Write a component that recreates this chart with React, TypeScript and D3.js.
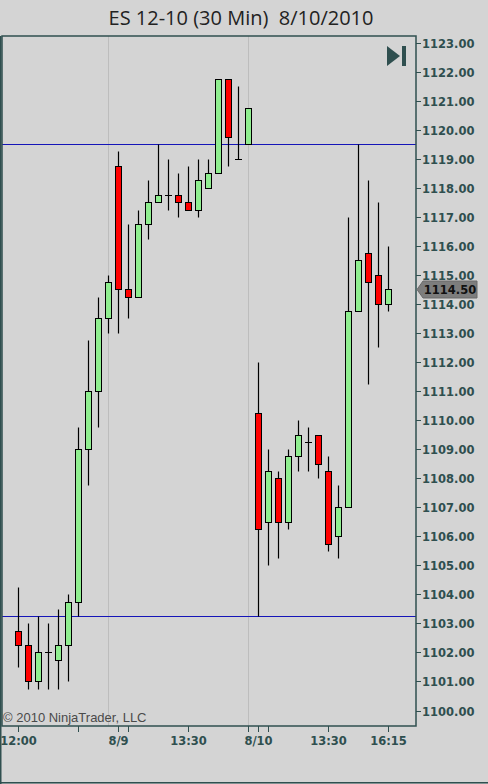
import React from "react";
import * as d3 from "d3";

// ES 12-10, 30 minute bars
const barOpen = [
  1102.75, 1102.25, 1101.0, 1102.0, 1101.75, 1102.25, 1103.75, 1109.0, 1111.0, 1113.5,
  1118.75, 1114.5, 1114.25, 1116.75, 1117.5, 1117.75, 1117.75, 1117.5, 1117.25, 1118.0,
  1118.5, 1121.75, 1119.0, 1119.5, 1110.25, 1106.5, 1108.0, 1106.5, 1108.75, 1109.25,
  1109.5, 1108.25, 1106.0, 1107.0, 1113.75, 1115.75, 1115.0, 1114.0,
];
const barHigh = [
  1104.25, 1103.0, 1103.25, 1103.0, 1103.5, 1104.0, 1109.75, 1112.75, 1114.25, 1115.0,
  1119.25, 1116.75, 1117.25, 1118.25, 1119.5, 1119.0, 1118.5, 1118.75, 1119.0, 1119.0,
  1121.75, 1121.75, 1121.5, 1120.75, 1112.0, 1109.0, 1108.25, 1109.0, 1110.0, 1109.75,
  1109.5, 1108.75, 1107.75, 1117.0, 1119.5, 1118.25, 1117.5, 1116.0,
];
const barLow = [
  1101.5, 1100.75, 1100.75, 1100.75, 1100.75, 1101.0, 1103.25, 1107.75, 1109.75, 1113.0,
  1113.0, 1113.5, 1114.25, 1116.25, 1117.5, 1117.25, 1117.0, 1117.25, 1117.0, 1118.0,
  1118.5, 1118.75, 1119.0, 1119.5, 1103.25, 1105.0, 1105.25, 1106.25, 1108.25, 1108.25,
  1108.0, 1105.5, 1105.25, 1107.0, 1113.75, 1111.25, 1112.5, 1113.75,
];
const barClose = [
  1102.25, 1101.0, 1102.0, 1102.0, 1102.25, 1103.75, 1109.0, 1111.0, 1113.5, 1114.75,
  1114.5, 1114.25, 1116.75, 1117.5, 1117.75, 1117.75, 1117.5, 1117.25, 1118.25, 1118.5,
  1121.75, 1119.75, 1119.0, 1120.75, 1106.25, 1108.25, 1106.5, 1108.75, 1109.5, 1109.25,
  1108.5, 1105.75, 1107.0, 1113.75, 1115.5, 1114.75, 1114.0, 1114.5,
];

// Horizontal reference lines
const levelLines = [1119.5, 1103.25];

// Time axis: bar index of each tick, and labels for the labelled ones
const timeTickBars = [0, 6, 10, 11, 17, 23, 24, 25, 31, 37];
const timeLabelBars = [0, 10, 17, 24, 31, 37];
const timeLabels = ["12:00", "8/9", "13:30", "8/10", "13:30", "16:15"];

// Session separators (bar index)
const sessionBars = [9, 23];

const priceTicks = d3.range(1100, 1124, 1);

const W = 488;
const H = 784;
const plot = { left: 2, right: 416, top: 36, bottom: 726 };
const frame = "#2f4f4f";
const bg = "#d4d4d4";

export default function App() {
  const y = d3.scaleLinear().domain([1100, 1123]).range([710.5, 42.5]);
  const x = d3.scaleLinear().domain([0, 37]).range([18.5, 388.5]);
  const half = 3.5;
  const last = barClose[barClose.length - 1];
  const ly = Math.round(y(last)) + 0.5;
  const fmt = d3.format(".2f");

  return (
    <svg
      width={W}
      height={H}
      style={{ position: "absolute", left: 0, top: 0, display: "block" }}
    >
      <rect x={0} y={0} width={W} height={H} fill={bg} />
      <text
        x={241}
        y={25}
        textAnchor="middle"
        fontFamily="'Open Sans', sans-serif"
        fontSize={20}
        fill="#222"
      >
        ES 12-10 (30 Min)&#160;&#160;8/10/2010
      </text>

      {/* session separators */}
      {sessionBars.map((b) => (
        <line
          key={"s" + b}
          x1={x(b)}
          x2={x(b)}
          y1={plot.top}
          y2={plot.bottom}
          stroke="#bdbdbd"
          strokeWidth={1}
        />
      ))}

      {/* level lines */}
      {levelLines.map((v) => (
        <line
          key={"l" + v}
          x1={plot.left}
          x2={plot.right}
          y1={Math.round(y(v)) + 0.5}
          y2={Math.round(y(v)) + 0.5}
          stroke="#1515b8"
          strokeWidth={1}
        />
      ))}

      {/* candles */}
      {barOpen.map((o, i) => {
        const c = barClose[i];
        const cx = x(i);
        const top = Math.round(y(Math.max(o, c))) + 0.5;
        const bot = Math.round(y(Math.min(o, c))) + 0.5;
        const up = c >= o;
        return (
          <g key={i}>
            <line
              x1={cx}
              x2={cx}
              y1={Math.round(y(barHigh[i])) + 0.5}
              y2={Math.round(y(barLow[i])) + 0.5}
              stroke="#000"
              strokeWidth={1.2}
            />
            {o === c ? (
              <line
                x1={cx - half}
                x2={cx + half}
                y1={top}
                y2={top}
                stroke="#000"
                strokeWidth={1}
              />
            ) : (
              <rect
                x={cx - half + 0.5}
                y={top}
                width={half * 2 - 1}
                height={bot - top}
                fill={up ? "#90ee90" : "#ff0000"}
                stroke="#000"
                strokeWidth={1}
              />
            )}
          </g>
        );
      })}

      {/* navigation icon */}
      <path d="M387,46 L400,56 L387,66 Z" fill={frame} />
      <rect x={402} y={46} width={4} height={20} fill={frame} />

      <text
        x={3}
        y={722}
        fontFamily="'Liberation Sans', Arial, sans-serif"
        fontSize={13}
        fill="#4a4a4a"
      >
        © 2010 NinjaTrader, LLC
      </text>

      {/* plot frame */}
      <rect
        x={plot.left}
        y={plot.top}
        width={plot.right - plot.left}
        height={plot.bottom - plot.top}
        fill="none"
        stroke={frame}
        strokeWidth={1.5}
      />
      <line x1={0.75} x2={0.75} y1={plot.top} y2={H} stroke={frame} strokeWidth={1.5} />
      <line x1={0} x2={W} y1={782.75} y2={782.75} stroke={frame} strokeWidth={1.5} />

      {/* price axis */}
      {priceTicks.map((v) => {
        const ty = Math.round(y(v)) + 0.5;
        return (
          <g key={"p" + v}>
            <line x1={plot.right} x2={plot.right + 5} y1={ty} y2={ty} stroke={frame} strokeWidth={1} />
            <text
              x={plot.right + 6}
              y={ty + 4.5}
              fontFamily="'DejaVu Sans', sans-serif"
              fontWeight="bold"
              fontSize={11.5}
              fill={frame}
            >
              {fmt(v)}
            </text>
          </g>
        );
      })}

      {/* last price marker */}
      <path
        d={`M${plot.right + 1},${ly} L${plot.right + 7},${ly - 8.5} L${plot.right + 61},${ly - 8.5} L${plot.right + 61},${ly + 8.5} L${plot.right + 7},${ly + 8.5} Z`}
        fill="#7d7d7d"
        stroke="#6a6a6a"
        strokeWidth={1}
      />
      <text
        x={plot.right + 34}
        y={ly + 4.5}
        textAnchor="middle"
        fontFamily="'DejaVu Sans', sans-serif"
        fontWeight="bold"
        fontSize={11.5}
        fill="#111"
      >
        {fmt(last)}
      </text>

      {/* time axis */}
      {timeTickBars.map((b) => (
        <line
          key={"t" + b}
          x1={x(b)}
          x2={x(b)}
          y1={plot.bottom}
          y2={plot.bottom + 6}
          stroke={frame}
          strokeWidth={1}
        />
      ))}
      {timeLabelBars.map((b, k) => (
        <text
          key={"tl" + k}
          x={x(b)}
          y={745}
          textAnchor="middle"
          fontFamily="'DejaVu Sans', sans-serif"
          fontWeight="bold"
          fontSize={11.5}
          fill={frame}
        >
          {timeLabels[k]}
        </text>
      ))}
    </svg>
  );
}
